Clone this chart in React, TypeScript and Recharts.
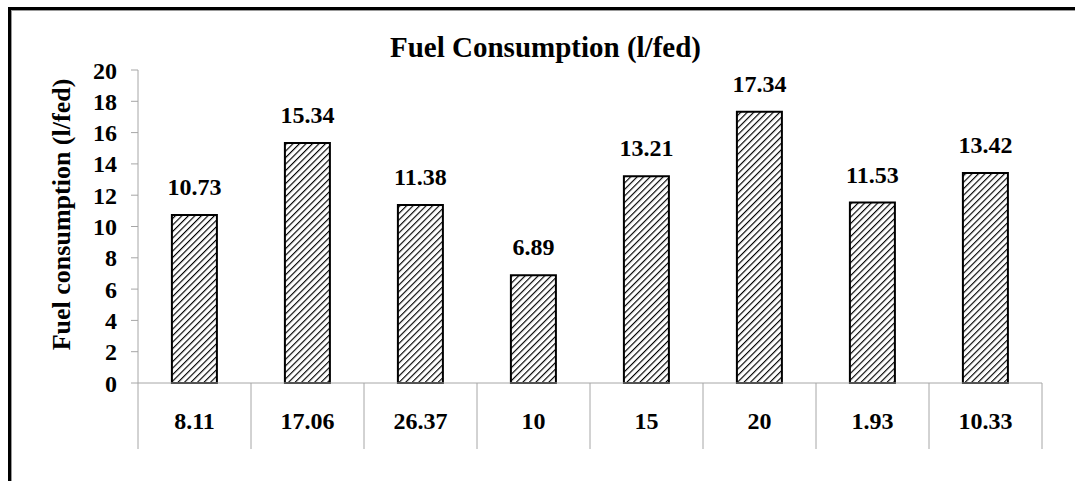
import React from 'react';
import { BarChart, Bar, XAxis, YAxis, LabelList } from 'recharts';

const categories = ['8.11', '17.06', '26.37', '10', '15', '20', '1.93', '10.33'];
const fuelValues = [10.73, 15.34, 11.38, 6.89, 13.21, 17.34, 11.53, 13.42];
const yTicks = [0, 2, 4, 6, 8, 10, 12, 14, 16, 18, 20];

const data = categories.map((name, i) => ({ name, fuel: fuelValues[i] }));

const FONT = 'Liberation Serif';
const AXIS_GRAY = '#a6a6a6';
const textStyle = { fill: '#000', fontFamily: FONT, fontWeight: 'bold', fontSize: 24 };
const CELL_H = 66;

// category tick drawn as a table cell: divider lines either side + label
const CellTick = (props: any) => {
  const { x, y, payload, index } = props;
  const axisW = props.width || 904;
  const half = axisW / categories.length / 2;
  return (
    <g>
      <line x1={x - half} x2={x - half} y1={y} y2={y + CELL_H} stroke={AXIS_GRAY} />
      {index === categories.length - 1 && (
        <line x1={x + half} x2={x + half} y1={y} y2={y + CELL_H} stroke={AXIS_GRAY} />
      )}
      <text x={x} y={y + 46} textAnchor="middle" {...textStyle}>
        {payload.value}
      </text>
    </g>
  );
};

const App: React.FC = () => {
  return (
    <div style={{ position: 'absolute', left: 0, top: 0, width: 1075, height: 481, background: '#fff', overflow: 'hidden' }}>
      <div
        style={{
          position: 'absolute',
          left: 8,
          top: 7,
          width: 1100,
          height: 500,
          borderTop: '3px solid #000',
          borderLeft: '3px solid #000',
          boxShadow: 'inset 1px 1px 0 #999',
        }}
      />
      <div
        style={{
          position: 'absolute',
          left: 0,
          width: 1091,
          top: 31,
          textAlign: 'center',
          fontFamily: FONT,
          fontWeight: 'bold',
          fontSize: 29,
          lineHeight: 'normal',
          color: '#000',
        }}
      >
        Fuel Consumption (l/fed)
      </div>
      <div style={{ position: 'absolute', left: 0, top: 0 }}>
        <BarChart
          width={1075}
          height={481}
          data={data}
          margin={{ top: 70, right: 33, bottom: 32, left: 0 }}
          barCategoryGap="30%"
        >
          <defs>
            <pattern id="hatch" patternUnits="userSpaceOnUse" width={4.6} height={4.6} patternTransform="rotate(45)">
              <rect width={4.6} height={4.6} fill="#fff" />
              <line x1={0} y1={0} x2={0} y2={4.6} stroke="#000" strokeWidth={2.3} />
            </pattern>
          </defs>
          <XAxis
            dataKey="name"
            height={CELL_H}
            axisLine={{ stroke: AXIS_GRAY }}
            tickLine={false}
            tickSize={0}
            tickMargin={0}
            interval={0}
            tick={CellTick}
          />
          <YAxis
            width={138}
            domain={[0, 20]}
            ticks={yTicks}
            interval={0}
            tickSize={7}
            tickMargin={14}
            axisLine={{ stroke: AXIS_GRAY }}
            tickLine={{ stroke: AXIS_GRAY }}
            tick={textStyle}
            label={{
              value: 'Fuel consumption (l/fed)',
              angle: -90,
              position: 'insideLeft',
              offset: 61,
              dy: -12,
              style: { ...textStyle, fontSize: 26, textAnchor: 'middle' },
            }}
          />
          <Bar dataKey="fuel" fill="url(#hatch)" stroke="#000" strokeWidth={2} isAnimationActive={false}>
            <LabelList dataKey="fuel" position="top" offset={20} fill="#000" style={textStyle} />
          </Bar>
        </BarChart>
      </div>
    </div>
  );
};

export default App;
